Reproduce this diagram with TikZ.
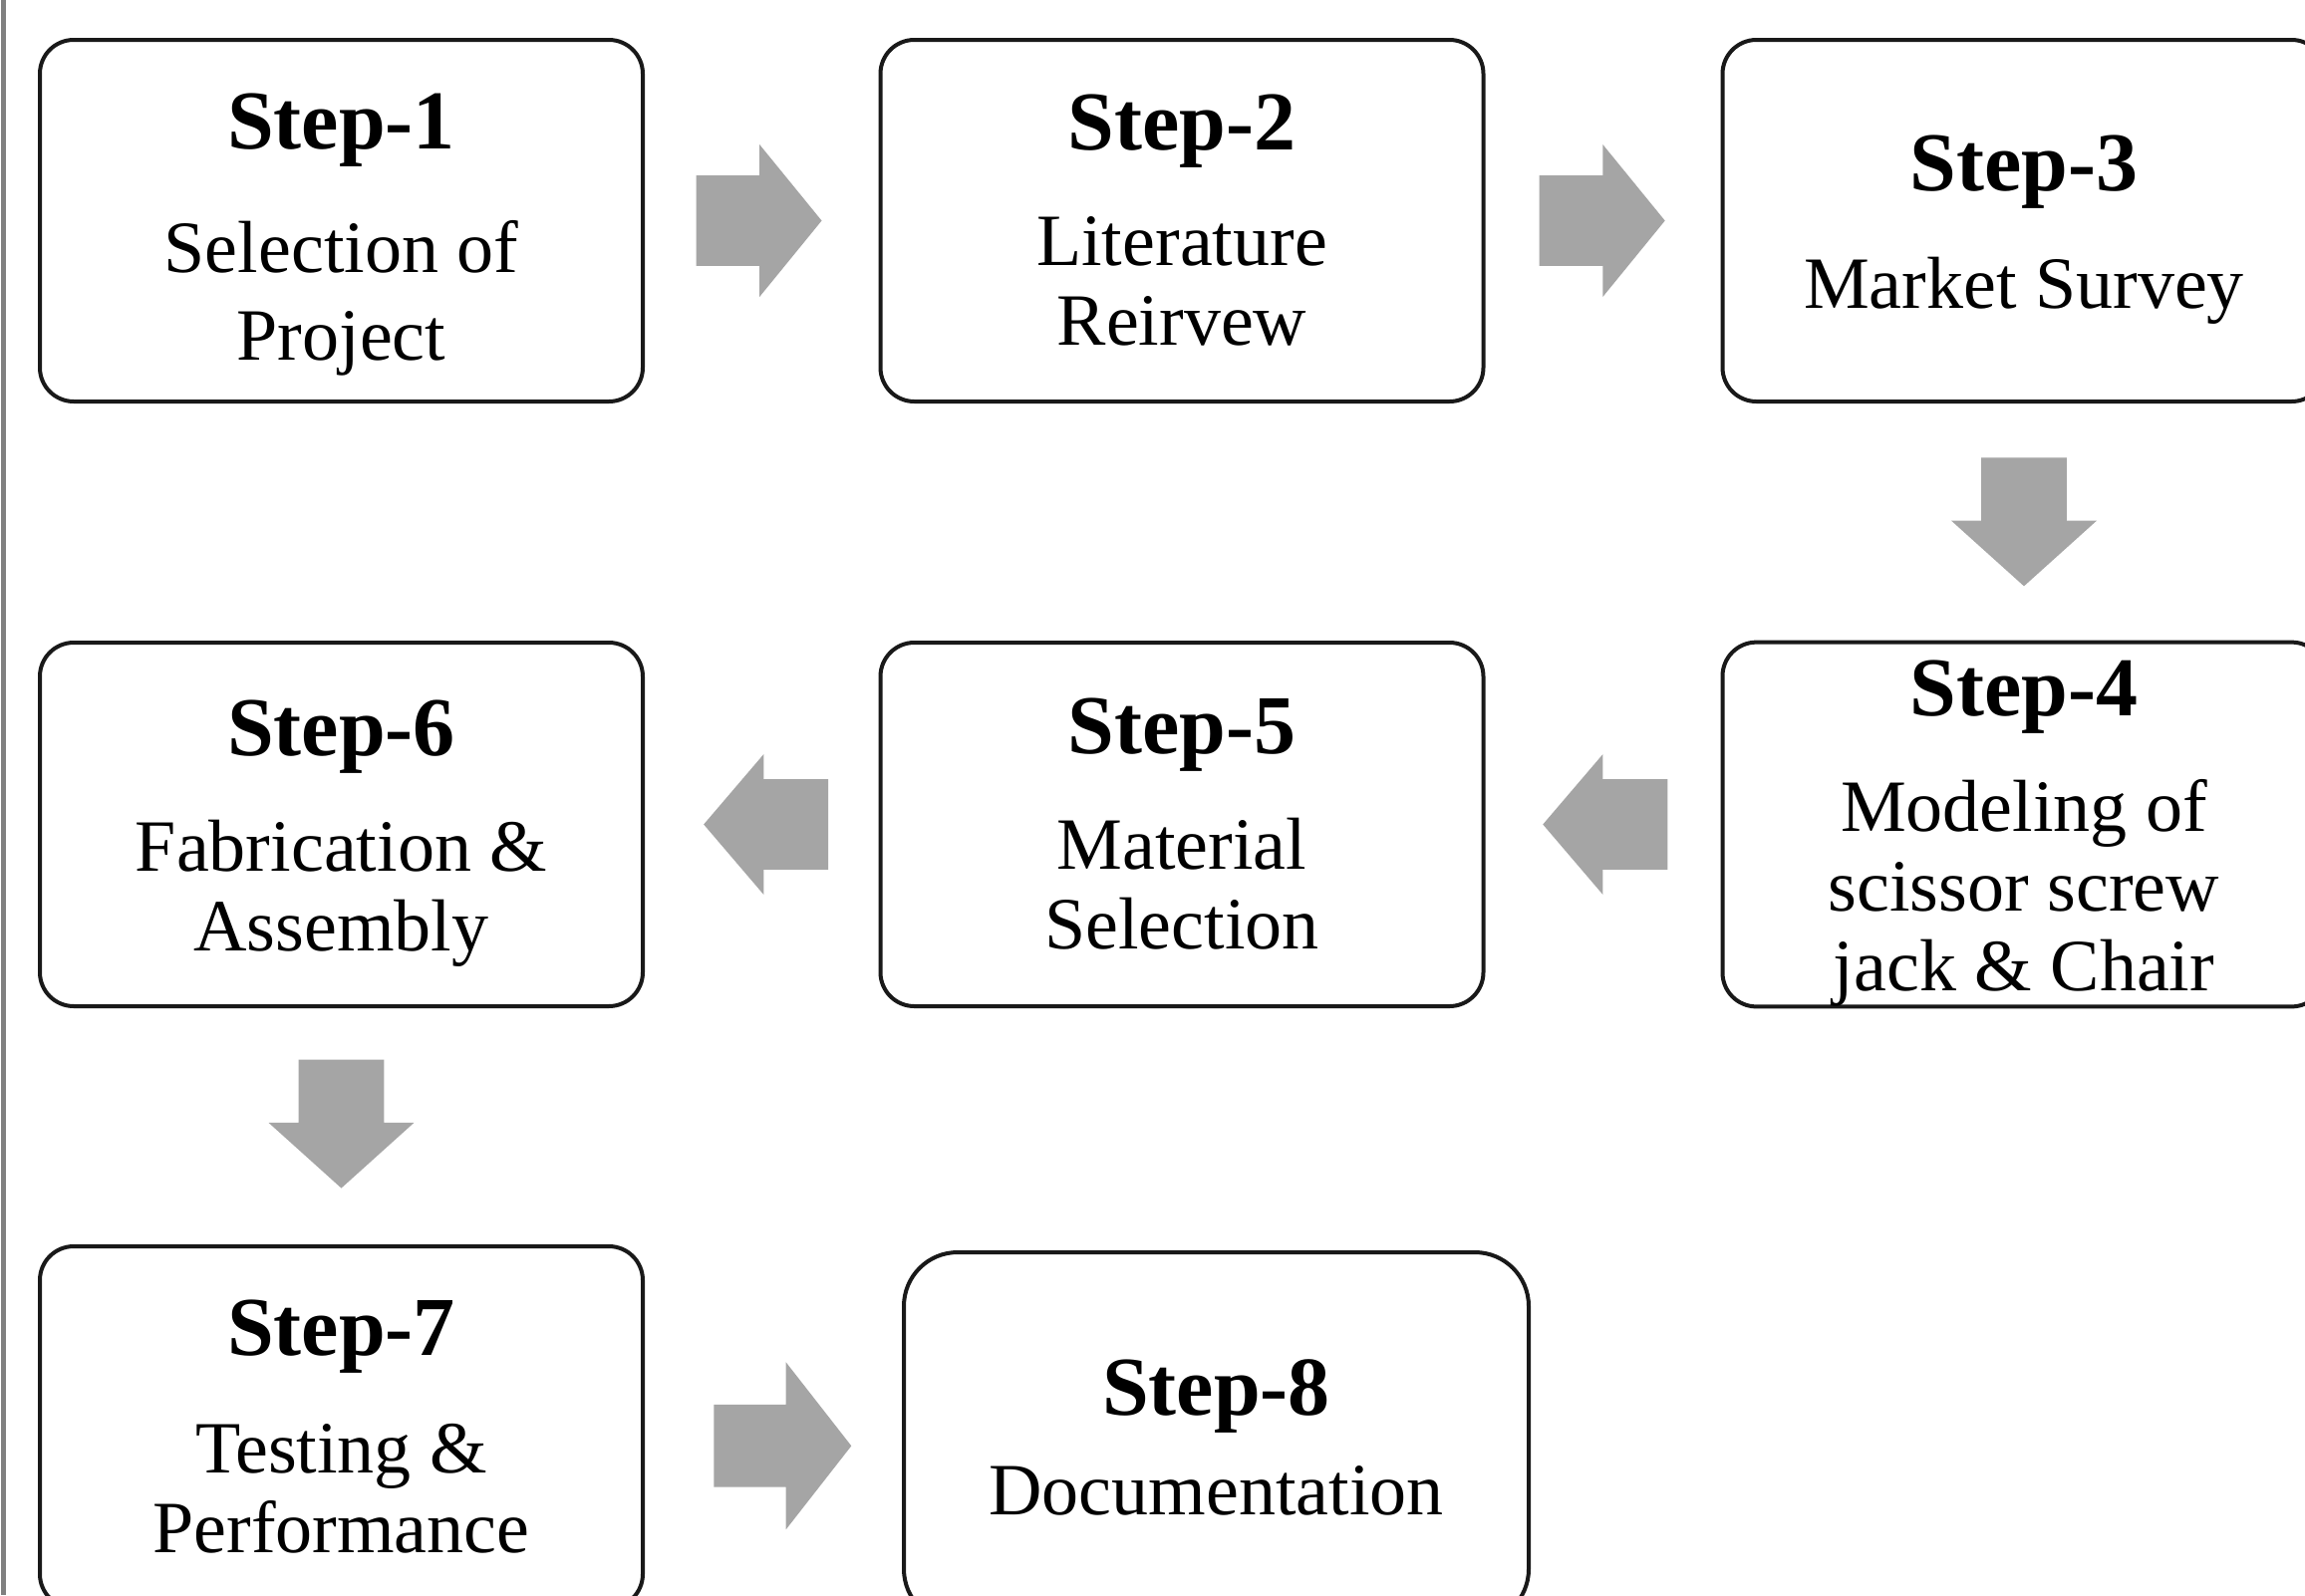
\documentclass[tikz,border=0pt]{standalone}
\usepackage{fontspec}
\setmainfont{Liberation Serif}
\usetikzlibrary{shapes.arrows,calc}
\definecolor{arrowgray}{HTML}{A5A5A5}
\definecolor{edgegray}{HTML}{808080}
\newcommand\stepf{\fontsize{42}{46}\selectfont\bfseries}
\newcommand\topsp[1]{\rule{0pt}{#1}}
\tikzset{
  stepbox/.style={draw=black!90, line width=2pt, rounded corners=17pt, fill=white,
    minimum width=302.5pt, minimum height=181.5pt, inner sep=0pt, align=center,
    font=\fontsize{37}{40}\selectfont},
  barrow/.style={single arrow, fill=arrowgray, draw=none, inner xsep=0pt, anchor=tail,
    inner ysep=22.5pt, single arrow head extend=15.5pt, single arrow tip angle=101.6,
    minimum height=63pt},
  downarrow/.style={barrow, rotate=-90, inner ysep=21.25pt, single arrow head extend=15pt,
    single arrow tip angle=96, minimum height=64.5pt},
  leftarrow/.style={barrow, rotate=180, inner ysep=22.5pt, single arrow head extend=12.5pt,
    single arrow tip angle=99, minimum height=62.5pt},
  bigarrow/.style={barrow, inner ysep=20.5pt, single arrow head extend=21.25pt,
    single arrow tip angle=104, minimum height=69pt}
}
\begin{document}
\begin{tikzpicture}[x=0.5pt,y=-0.5pt]
\useasboundingbox (0,0) rectangle (2313,1601);
\fill[white] (0,0) rectangle (2313,1601);
\begin{scope}
\clip (0,0) rectangle (2313,1601);
\draw[edgegray, line width=2.5pt] (3,0) -- (3,1601);
% row 1
\node[stepbox] (s1) at (342.5,221.5) {{\stepf\topsp{41.8pt}Step-1}\\[22.2pt] Selection of\\[4pt] Project};
\node[stepbox] (s2) at (1186,221.5) {{\stepf Step-2}\\[18pt] Literature\\ Reirvew};
\node[stepbox] (s3) at (2031,221.5) {{\stepf\topsp{36.5pt}Step-3}\\[19pt] Market Survey};
% row 2
\node[stepbox, minimum height=182.5pt] (s4) at (2031,827.5) {{\stepf\topsp{37pt}Step-4}\\[18pt] Modeling of\\ scissor screw\\ jack \& Chair};
\node[stepbox, minimum height=182.5pt] (s5) at (1186,827.5) {{\stepf Step-5}\\[18pt] Material\\ Selection};
\node[stepbox, minimum height=182.5pt] (s6) at (342.5,827.5) {{\stepf\topsp{36.5pt}Step-6}\\[18pt] Fabrication \&\\ Assembly};
% row 3
\node[stepbox] (s7) at (342.5,1432.5) {{\stepf Step-7}\\[19pt] Testing \&\\ Performance};
\node[stepbox, minimum width=313.5pt, minimum height=186pt, rounded corners=27pt] (s8) at (1220.5,1443) {{\stepf Step-8}\\[10pt] Documentation};
% block arrows
\path (s1.east) -- node[barrow, pos=0.218] (a1) {} (s2.west);
\path (s2.east) -- node[barrow, pos=0.228] (a2) {} (s3.west);
\path (s3.south) -- node[downarrow, pos=0.227] (a3) {} (s4.north);
\path (s4.west) -- node[leftarrow, pos=0.224] (a4) {} (s5.east);
\path (s5.west) -- node[leftarrow, pos=0.213] (a5) {} (s6.east);
\path (s6.south) -- node[downarrow, pos=0.216] (a6) {} (s7.north);
\path (s7.east) -- node[bigarrow, pos=0.267, yshift=-8pt] (a7) {} (s8.west);
\end{scope}
\end{tikzpicture}
\end{document}
